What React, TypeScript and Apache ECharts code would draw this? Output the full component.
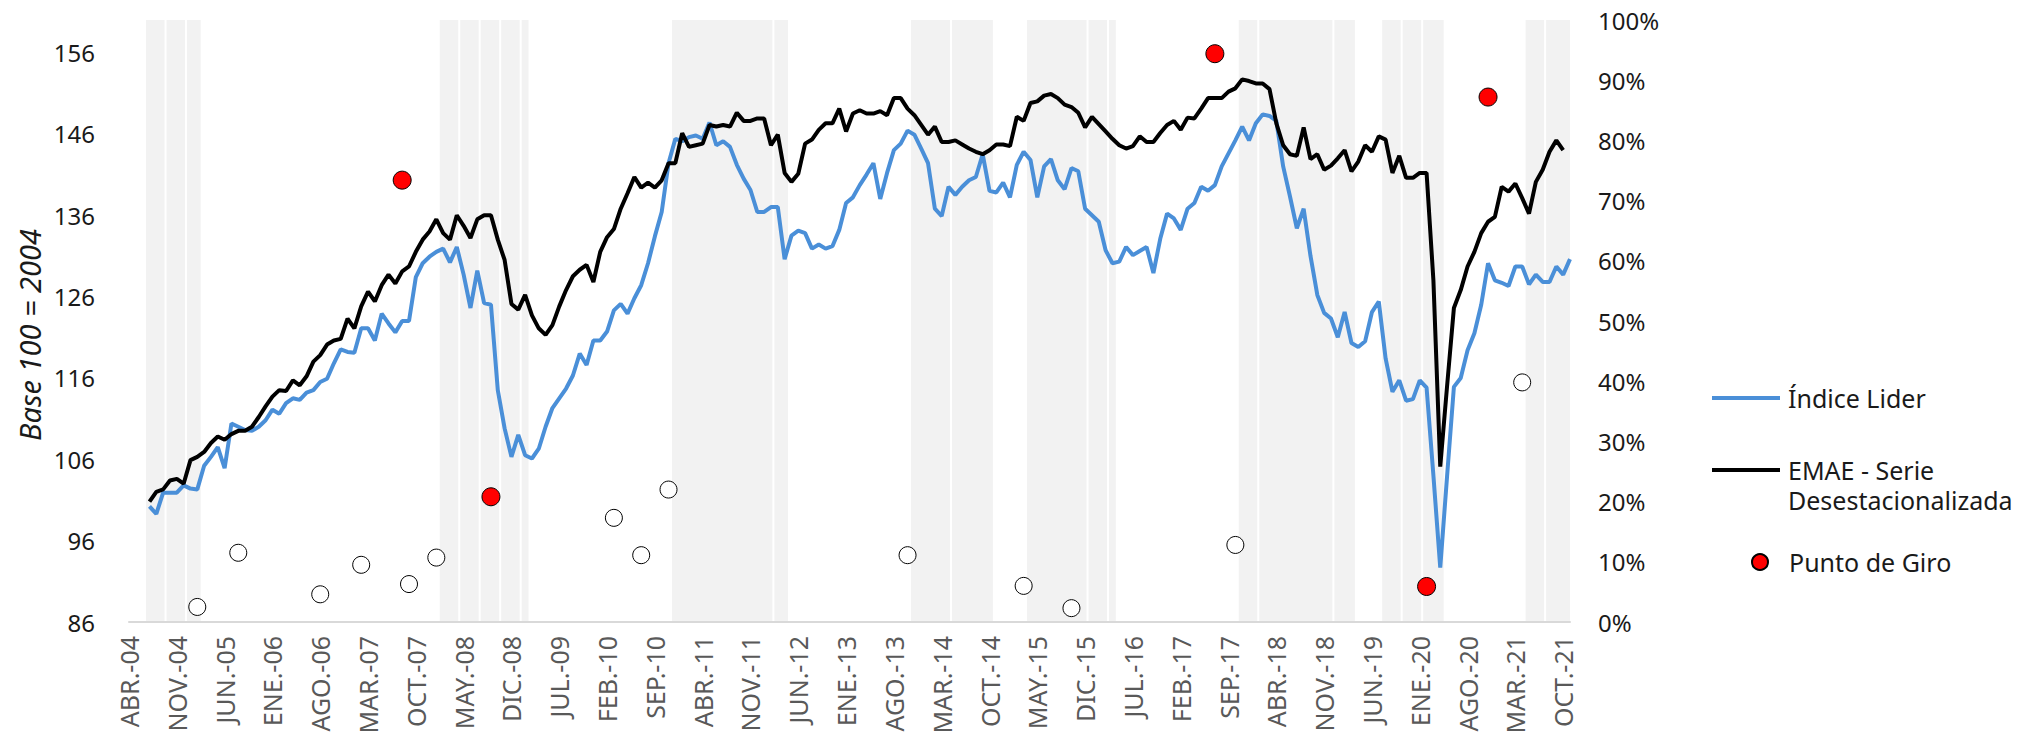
import { useEffect, useRef } from 'react';
import * as echarts from 'echarts';

const MONTHS = ['ENE', 'FEB', 'MAR', 'ABR', 'MAY', 'JUN', 'JUL', 'AGO', 'SEP', 'OCT', 'NOV', 'DIC'];

// Monthly categories ABR.-04 … NOV.-21
const categories: string[] = [];
for (let y = 2004; y <= 2021; y++) {
  for (let m = 0; m < 12; m++) {
    if (y === 2004 && m < 3) continue;
    if (y === 2021 && m > 10) continue;
    categories.push(`${MONTHS[m]}.-${String(y).slice(2)}`);
  }
}

// Índice Líder (left axis), from ABR.-04
const indiceLider: (number | null)[] = [
  null, null, null,
  100.2, 99.3, 101.9, 101.9, 101.9, 102.8, 102.4, 102.3, 105.2, 106.3,
  107.5, 104.9, 110.4, 110.0, 109.6, 109.5, 110.0, 110.8, 112.1, 111.6,
  112.9, 113.5, 113.3, 114.2, 114.5, 115.5, 115.9, 117.8, 119.5, 119.2,
  119.1, 122.1, 122.1, 120.6, 123.9, 122.7, 121.6, 123.0, 123.0, 128.4,
  130.1, 130.9, 131.5, 131.9, 130.2, 132.1, 128.7, 124.6, 129.2, 125.2,
  125.0, 114.5, 109.8, 106.3, 109.0, 106.5, 106.1, 107.3, 110.0, 112.3,
  113.5, 114.7, 116.3, 119.0, 117.6, 120.6, 120.6, 121.7, 124.3, 125.1,
  123.9, 125.8, 127.4, 130.1, 133.4, 136.4, 142.4, 145.4, 145.1, 145.6,
  145.8, 145.4, 147.4, 144.6, 145.1, 144.4, 142.2, 140.5, 139.1, 136.4,
  136.4, 137.0, 137.0, 130.6, 133.5, 134.1, 133.8, 131.9, 132.4, 131.9,
  132.2, 134.2, 137.5, 138.2, 139.7, 141.0, 142.4, 138.0, 141.2, 144.0,
  144.8, 146.4, 145.9, 144.2, 142.4, 136.8, 135.9, 139.5, 138.5, 139.5,
  140.3, 140.7, 143.5, 139.0, 138.8, 140.0, 138.2, 142.2, 143.8, 142.8,
  138.2, 142.0, 142.9, 140.3, 139.2, 141.8, 141.4, 136.8, 136.0, 135.2,
  131.7, 130.1, 130.3, 132.1, 131.1, 131.6, 132.1, 128.9, 133.1, 136.2,
  135.6, 134.2, 136.8, 137.5, 139.5, 139.0, 139.7, 142.0, 143.6, 145.2,
  146.9, 145.2, 147.3, 148.4, 148.2, 147.6, 142.0, 138.3, 134.4, 136.8,
  131.0, 126.2, 124.0, 123.3, 121.0, 124.1, 120.3, 119.8, 120.5, 124.1,
  125.4, 118.4, 114.3, 115.7, 113.2, 113.4, 115.7, 114.8, 104.0, 92.7,
  103.9, 114.9, 116.0, 119.4, 121.5, 125.0, 130.1, 128.0, 127.7, 127.3,
  129.7, 129.7, 127.5, 128.7, 127.8, 127.8, 129.7, 128.7, 130.6,
];

// EMAE - Serie Desestacionalizada (left axis), from ABR.-04
const emae: (number | null)[] = [
  null, null, null,
  100.8, 102.0, 102.3, 103.4, 103.6, 103.0, 105.9, 106.3, 106.9, 108.0,
  108.8, 108.4, 109.1, 109.5, 109.5, 110.0, 111.2, 112.5, 113.7, 114.5,
  114.4, 115.7, 115.1, 116.2, 118.0, 118.8, 120.1, 120.6, 120.8, 123.3,
  122.1, 124.8, 126.6, 125.4, 127.4, 128.7, 127.6, 129.1, 129.7, 131.5,
  133.0, 134.0, 135.5, 133.8, 133.0, 136.0, 134.7, 133.2, 135.5, 136.0,
  136.0, 133.0, 130.5, 125.1, 124.4, 126.2, 123.7, 122.1, 121.3, 122.5,
  124.8, 126.8, 128.5, 129.3, 129.9, 127.8, 131.5, 133.3, 134.3, 136.8,
  138.7, 140.7, 139.4, 140.0, 139.4, 140.3, 142.4, 142.4, 146.1, 144.4,
  144.6, 144.8, 147.1, 146.9, 147.1, 146.9, 148.6, 147.6, 147.6, 147.9,
  147.9, 144.6, 145.9, 141.2, 140.1, 141.1, 144.8, 145.3, 146.5, 147.3,
  147.3, 149.1, 146.3, 148.5, 148.9, 148.5, 148.5, 148.8, 148.3, 150.4,
  150.4, 149.1, 148.3, 147.1, 145.9, 146.9, 145.0, 145.0, 145.2, 144.7,
  144.2, 143.8, 143.5, 144.0, 144.7, 144.7, 144.5, 148.1, 147.6, 149.8,
  150.0, 150.7, 150.9, 150.4, 149.6, 149.3, 148.6, 146.8, 148.1, 147.2,
  146.3, 145.4, 144.6, 144.2, 144.5, 145.7, 145.0, 145.0, 146.1, 147.1,
  147.6, 146.5, 148.0, 147.9, 149.1, 150.4, 150.4, 150.4, 151.2, 151.6,
  152.7, 152.5, 152.2, 152.2, 151.5, 147.3, 144.6, 143.5, 143.3, 146.8,
  142.9, 143.5, 141.6, 142.1, 143.0, 144.0, 141.4, 142.6, 144.6, 143.8,
  145.7, 145.3, 141.2, 143.3, 140.6, 140.6, 141.2, 141.2, 128.0, 105.1,
  115.0, 124.6, 126.8, 129.7, 131.5, 133.8, 135.2, 135.8, 139.5, 138.9,
  139.9, 138.1, 136.2, 140.1, 141.6, 143.8, 145.2, 144.0, null,
];

// Punto de Giro (right axis, %)
const puntoGiro: [string, number][] = [
  ['AGO.-07', 73.4],
  ['SEP.-08', 20.8],
  ['JUL.-17', 94.4],
  ['FEB.-20', 5.9],
  ['NOV.-20', 87.2],
];

// Open circles (right axis, %)
const probabilidad: [string, number][] = [
  ['FEB.-05', 2.5],
  ['AGO.-05', 11.5],
  ['AGO.-06', 4.6],
  ['FEB.-07', 9.5],
  ['SEP.-07', 6.3],
  ['ENE.-08', 10.7],
  ['MAR.-10', 17.3],
  ['JUL.-10', 11.1],
  ['NOV.-10', 22.0],
  ['OCT.-13', 11.1],
  ['MAR.-15', 6.0],
  ['OCT.-15', 2.3],
  ['OCT.-17', 12.8],
  ['ABR.-21', 39.8],
];

// Shaded periods, each split in the blocks seen in the picture
const shadedPeriods: [string, string][][] = [
  [['JUL.-04', 'SEP.-04'], ['OCT.-04', 'DIC.-04'], ['ENE.-05', 'FEB.-05']],
  [['FEB.-08', 'ABR.-08'], ['MAY.-08', 'JUL.-08'], ['AGO.-08', 'OCT.-08'], ['NOV.-08', 'ENE.-09'], ['FEB.-09', 'FEB.-09']],
  [['DIC.-10', 'FEB.-12'], ['MAR.-12', 'ABR.-12']],
  [['NOV.-13', 'ABR.-14'], ['MAY.-14', 'OCT.-14']],
  [['ABR.-15', 'DIC.-15'], ['ENE.-16', 'MAR.-16'], ['ABR.-16', 'ABR.-16']],
  [['NOV.-17', 'ENE.-18'], ['FEB.-18', 'DIC.-18'], ['ENE.-19', 'MAR.-19']],
  [['AGO.-19', 'OCT.-19'], ['NOV.-19', 'ENE.-20'], ['FEB.-20', 'ABR.-20']],
  [['MAY.-21', 'JUL.-21'], ['AGO.-21', 'NOV.-21']],
];

const shadeData: number[][] = [];
shadedPeriods.forEach((blocks) => {
  blocks.forEach((b, k) => {
    shadeData.push([categories.indexOf(b[0]), categories.indexOf(b[1]), k < blocks.length - 1 ? 1 : 0]);
  });
});

const FONT = '"Noto Sans", sans-serif';
const BLUE = '#4a8fd8';

export default function App() {
  const ref = useRef<HTMLDivElement>(null);

  useEffect(() => {
    const chart = echarts.init(ref.current!, undefined, { renderer: 'svg' });
    const legendText = { fontFamily: FONT, fontSize: 25, lineHeight: 30, color: '#1a1a1a' };
    const option: any = {
      animation: false,
      backgroundColor: '#ffffff',
      textStyle: { fontFamily: FONT },
      grid: { left: 129, right: 468, top: 20, bottom: 117, containLabel: false, outerBoundsMode: 'none' },
      legend: [
        {
          data: ['Índice Lider'],
          left: 1712,
          top: 383,
          padding: 0,
          orient: 'vertical',
          selectedMode: false,
          icon: 'rect',
          itemWidth: 68,
          itemHeight: 4,
          itemStyle: { borderWidth: 0 },
          textStyle: { ...legendText, padding: [0, 0, 0, 3] },
        },
        {
          data: ['EMAE - Serie Desestacionalizada'],
          left: 1712,
          top: 455,
          padding: 0,
          orient: 'vertical',
          selectedMode: false,
          icon: 'path://M0,0 L68,0 L68,4 L0,4 Z M0,34 L68,34',
          itemWidth: 68,
          itemHeight: 34,
          itemStyle: { borderWidth: 0 },
          formatter: () => 'EMAE - Serie\nDesestacionalizada',
          textStyle: { ...legendText, padding: [0, 0, 0, 3] },
        },
        {
          data: ['Punto de Giro'],
          left: 1751,
          top: 547,
          padding: 0,
          orient: 'vertical',
          selectedMode: false,
          icon: 'circle',
          itemWidth: 16,
          itemHeight: 16,
          textStyle: { ...legendText, padding: [0, 0, 0, 16] },
        },
      ],
      xAxis: {
        type: 'category',
        data: categories,
        boundaryGap: false,
        axisLine: { show: true, lineStyle: { color: '#d9d9d9', width: 2 } },
        axisTick: { show: false },
        splitLine: { show: false },
        axisLabel: {
          interval: 6,
          rotate: 90,
          fontSize: 25,
          color: '#595959',
          margin: 14,
          fontFamily: FONT,
        },
      },
      yAxis: [
        {
          type: 'value',
          position: 'left',
          min: 86,
          max: 160,
          interval: 10,
          axisLine: { show: false },
          axisTick: { show: false },
          splitLine: { show: false },
          axisLabel: {
            fontSize: 24,
            color: '#1a1a1a',
            margin: 34,
            fontFamily: FONT,
            formatter: (v: number) => (v > 156 ? '' : String(v)),
          },
          name: 'Base 100 = 2004',
          nameLocation: 'middle',
          nameGap: 85,
          nameRotate: 90,
          nameMoveOverlap: false,
          nameTextStyle: {
            fontSize: 29,
            fontStyle: 'italic',
            color: '#1a1a1a',
            fontFamily: FONT,
            padding: [0, 28, 0, 0],
          },
        },
        {
          type: 'value',
          position: 'right',
          min: 0,
          max: 100,
          interval: 10,
          axisLine: { show: false },
          axisTick: { show: false },
          splitLine: { show: false },
          axisLabel: { fontSize: 24, color: '#1a1a1a', margin: 28, fontFamily: FONT, formatter: '{value}%' },
        },
      ],
      series: [
        {
          type: 'custom',
          name: 'shade',
          xAxisIndex: 0,
          yAxisIndex: 1,
          silent: true,
          clip: true,
          z: 0,
          encode: { x: [0, 1] },
          data: shadeData,
          renderItem: (_params: any, api: any) => {
            const s = api.value(0) as number;
            const e = api.value(1) as number;
            const seam = api.value(2) as number;
            const w = (api.size([1, 0]) as number[])[0];
            const pTop = api.coord([s, 100]);
            const pBot = api.coord([e, 0]);
            const x0 = pTop[0] - w / 2;
            const x1 = pBot[0] + w / 2 - (seam ? 2 : 0);
            return {
              type: 'rect',
              shape: { x: x0, y: pTop[1], width: x1 - x0, height: pBot[1] - pTop[1] },
              style: { fill: '#f2f2f2' },
            };
          },
        },
        {
          type: 'line',
          name: 'Índice Lider',
          data: indiceLider,
          yAxisIndex: 0,
          symbol: 'none',
          color: BLUE,
          itemStyle: { color: BLUE },
          lineStyle: { color: BLUE, width: 4 },
          z: 2,
        },
        {
          type: 'line',
          name: 'EMAE - Serie Desestacionalizada',
          data: emae,
          yAxisIndex: 0,
          symbol: 'none',
          color: '#000000',
          itemStyle: { color: '#000000' },
          lineStyle: { color: '#000000', width: 4 },
          z: 3,
        },
        {
          type: 'scatter',
          name: 'Probabilidad',
          data: probabilidad,
          yAxisIndex: 1,
          symbol: 'circle',
          symbolSize: 17,
          itemStyle: { color: '#ffffff', borderColor: '#000000', borderWidth: 1, opacity: 1 },
          z: 4,
        },
        {
          type: 'scatter',
          name: 'Punto de Giro',
          data: puntoGiro,
          yAxisIndex: 1,
          symbol: 'circle',
          symbolSize: 18,
          color: '#ff0000',
          itemStyle: { color: '#ff0000', borderColor: '#000000', borderWidth: 1, opacity: 1 },
          z: 5,
        },
      ],
    };
    chart.setOption(option);
    return () => chart.dispose();
  }, []);

  return (
    <div
      ref={ref}
      style={{ position: 'fixed', left: 0, top: 0, width: 2038, height: 739, background: '#ffffff' }}
    />
  );
}
